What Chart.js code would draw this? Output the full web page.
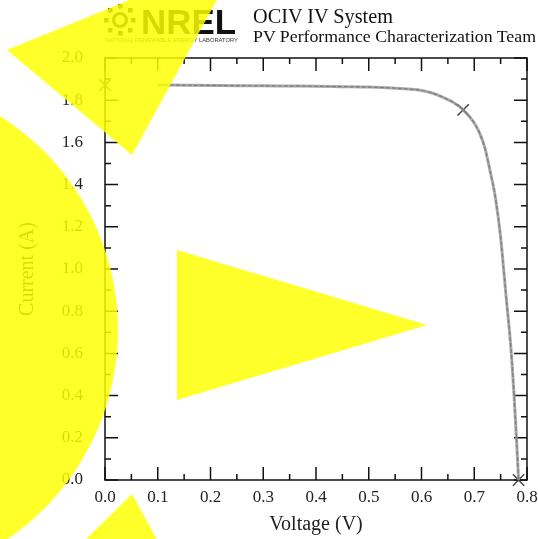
<!DOCTYPE html>
<html>
<head>
<meta charset="utf-8">
<script src="https://cdn.jsdelivr.net/npm/chart.js@4.4.0/dist/chart.umd.min.js"></script>
<style>
  body { margin: 0; background: #fff; }
  #wrap { position: relative; width: 538px; height: 539px; overflow: hidden; }
  #wrap svg, #wrap canvas { position: absolute; left: 0; top: 0; }
  #shapes { pointer-events: none; }
</style>
</head>
<body>
<div id="wrap">
  <canvas id="ivChart" width="538" height="539"></canvas>
  <svg id="header" width="538" height="60">
    <g fill="none" stroke="#222" stroke-width="3">
      <circle cx="120" cy="20" r="6.5"/>
    </g>
    <g fill="#222">
      <rect x="118" y="4" width="4.5" height="4.5"/>
      <rect x="118" y="31" width="4.5" height="4.5"/>
      <rect x="104" y="18" width="4.5" height="4.5"/>
      <rect x="131" y="18" width="4.5" height="4.5"/>
      <rect x="108" y="8" width="4.5" height="4.5"/>
      <rect x="128" y="8" width="4.5" height="4.5"/>
      <rect x="108" y="28" width="4.5" height="4.5"/>
      <rect x="128" y="28" width="4.5" height="4.5"/>
    </g>
    <text x="141" y="34" font-family="Liberation Sans" font-weight="bold" font-size="35" fill="#111" textLength="95" lengthAdjust="spacingAndGlyphs">NREL</text>
    <text x="105" y="42" font-family="Liberation Sans" font-size="5" fill="#333" textLength="133" lengthAdjust="spacingAndGlyphs">NATIONAL RENEWABLE ENERGY LABORATORY</text>
    <text x="253" y="23" font-family="Liberation Serif" font-size="20" fill="#111" textLength="140" lengthAdjust="spacingAndGlyphs">OCIV IV System</text>
    <text x="253" y="42" font-family="Liberation Serif" font-size="17.5" fill="#111" textLength="283" lengthAdjust="spacingAndGlyphs">PV Performance Characterization Team</text>
  </svg>
  <svg id="shapes" width="538" height="539">
    <g fill="rgb(255,255,0)" fill-opacity="0.84">
      <polygon points="7,50 242,-46 132,155"/>
      <circle cx="-135" cy="330" r="253"/>
      <polygon points="177,250 177,400 427,325"/>
      <polygon points="132,494 80,545 160,545"/>
    </g>
  </svg>
</div>
<script>
// measured IV curve
const voltage = [0.10, 0.15, 0.20, 0.25, 0.30, 0.35, 0.40, 0.45, 0.50, 0.55, 0.58, 0.60,
                 0.62, 0.64, 0.66, 0.68, 0.70, 0.71, 0.72, 0.73, 0.74, 0.75, 0.76, 0.77,
                 0.775, 0.78, 0.784];
const current = [1.872, 1.871, 1.870, 1.869, 1.868, 1.867, 1.866, 1.864, 1.862, 1.857, 1.852, 1.846,
                 1.834, 1.815, 1.790, 1.752, 1.692, 1.645, 1.575, 1.465, 1.340, 1.150, 0.880, 0.610,
                 0.420, 0.200, 0.0];

// Isc, Pmax, Voc markers
const markerV = [0.0, 0.679, 0.784];
const markerI = [1.872, 1.754, 0.0];

const xTicks = [0.0, 0.1, 0.2, 0.3, 0.4, 0.5, 0.6, 0.7, 0.8];
const yTicks = [0.0, 0.2, 0.4, 0.6, 0.8, 1.0, 1.2, 1.4, 1.6, 1.8, 2.0];

const curvePts = voltage.map((v, i) => ({ x: v, y: current[i] }));
const markerPts = markerV.map((v, i) => ({ x: v, y: markerI[i] }));

const serif = "'Liberation Serif', 'Times New Roman', serif";

// box + inward ticks on all four sides
const frameTicks = {
    id: 'frameTicks',
    beforeDatasetsDraw(chart) {
        const ctx = chart.ctx;
        const a = chart.chartArea;
        const xs = chart.scales.x, ys = chart.scales.y;
        ctx.save();
        ctx.strokeStyle = '#111';
        ctx.lineWidth = 1.5;
        ctx.strokeRect(a.left, a.top, a.right - a.left, a.bottom - a.top);
        ctx.beginPath();
        for (let i = 0; i <= 16; i++) {
            const len = i % 2 === 0 ? 13 : 6;
            const px = xs.getPixelForValue(i * 0.05);
            ctx.moveTo(px, a.bottom); ctx.lineTo(px, a.bottom - len);
            ctx.moveTo(px, a.top); ctx.lineTo(px, a.top + len);
        }
        for (let i = 0; i <= 20; i++) {
            const len = i % 2 === 0 ? 13 : 6;
            const py = ys.getPixelForValue(i * 0.1);
            ctx.moveTo(a.left, py); ctx.lineTo(a.left + len, py);
            ctx.moveTo(a.right, py); ctx.lineTo(a.right - len, py);
        }
        ctx.stroke();
        ctx.restore();
    }
};

new Chart("ivChart", {
    type: "scatter",
    data: {
        datasets: [{
            data: curvePts,
            showLine: true,
            borderColor: "rgba(150,150,150,0.8)",
            borderWidth: 3,
            pointRadius: 0,
            cubicInterpolationMode: 'monotone'
        }, {
            data: curvePts,
            showLine: true,
            borderColor: "#111",
            borderWidth: 1.2,
            borderDash: [4, 2],
            pointRadius: 0,
            cubicInterpolationMode: 'monotone'
        }, {
            data: markerPts,
            showLine: false,
            pointStyle: 'crossRot',
            pointRadius: 8,
            pointBorderColor: "#444",
            pointBorderWidth: 1.5,
            clip: false
        }]
    },
    options: {
        responsive: false,
        devicePixelRatio: 1,
        animation: false,
        layout: { padding: { top: 58, right: 11, bottom: 0, left: 0 } },
        plugins: { legend: { display: false }, tooltip: { enabled: false } },
        scales: {
            x: {
                type: 'linear', min: 0, max: 0.8,
                afterFit: s => { s.height = 59; s.paddingLeft = 0; s.paddingRight = 0; },
                afterBuildTicks: s => { s.ticks = xTicks.map(v => ({ value: v })); },
                grid: { display: false, drawTicks: false },
                border: { display: false },
                ticks: { padding: 7, color: '#222', font: { family: serif, size: 17 },
                         callback: v => v.toFixed(1) },
                title: { display: true, text: 'Voltage (V)', color: '#222',
                         font: { family: serif, size: 20 }, padding: { top: 0, bottom: 2 } }
            },
            y: {
                type: 'linear', min: 0, max: 2.0,
                afterFit: s => { s.width = 105; s.paddingTop = 0; s.paddingBottom = 0; },
                afterBuildTicks: s => { s.ticks = yTicks.map(v => ({ value: v })); },
                grid: { display: false, drawTicks: false },
                border: { display: false },
                ticks: { padding: 22, color: '#222', font: { family: serif, size: 17 },
                         callback: v => v.toFixed(1) },
                title: { display: true, text: 'Current (A)', color: '#222',
                         font: { family: serif, size: 20 }, padding: { top: 16, bottom: 0 } }
            }
        }
    },
    plugins: [frameTicks]
});
</script>
</body>
</html>
